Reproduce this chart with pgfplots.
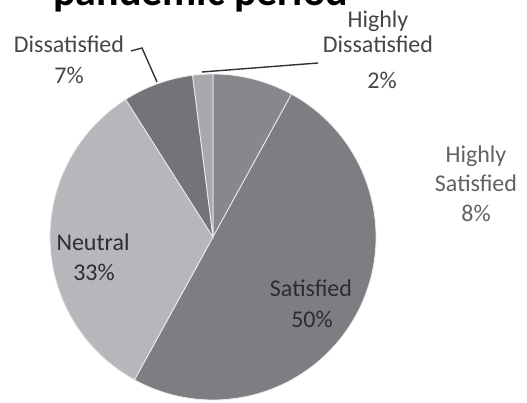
\documentclass[border=0pt]{standalone}
\usepackage{fontspec}
\setmainfont{Carlito}
\usepackage{pgfplots}
\usepackage{pgfplotstable}
\pgfplotsset{compat=1.18}

% slice shares, clockwise from 12 o'clock
\pgfplotstableread{
label value
HighlySatisfied 8
Satisfied 50
Neutral 33
Dissatisfied 7
HighlyDissatisfied 2
}\piedata

\definecolor{pc0}{HTML}{88888C}
\definecolor{pc1}{HTML}{7E7E82}
\definecolor{pc2}{HTML}{B7B7BB}
\definecolor{pc3}{HTML}{747478}
\definecolor{pc4}{HTML}{A9A9AD}
\definecolor{lbl}{HTML}{2C2C32}
\definecolor{outlbl}{HTML}{45454A}

\newcommand{\lab}{\fontsize{24}{29}\selectfont}

\begin{document}
\begin{tikzpicture}
\xdef\cum{90}
\foreach \i in {0,...,4}{
  \pgfplotstablegetelem{\i}{value}\of\piedata
  \pgfmathsetmacro{\e}{\cum-3.6*\pgfplotsretval}
  \expandafter\xdef\csname sa\i\endcsname{\cum}
  \expandafter\xdef\csname ea\i\endcsname{\e}
  \xdef\cum{\e}
}
\begin{axis}[name=ax, hide axis, disabledatascaling, scale only axis,
  x=1pt, y=1pt, xmin=0, xmax=527, ymin=0, ymax=403, clip=false]
\pgfplotsinvokeforeach{0,...,4}{
  \fill[fill=pc#1, draw=white!85!gray, line width=0.8pt]
    (axis cs:213,166) -- (axis cs:{213+163*cos(\csname sa#1\endcsname)},{166+163*sin(\csname sa#1\endcsname)})
    arc[start angle=\csname sa#1\endcsname, end angle=\csname ea#1\endcsname, radius=163pt] -- cycle;
}
% inside labels
\node[anchor=base, inner sep=0pt, font=\lab, text=lbl] at (axis cs:93,152) {Neutral};
\node[anchor=base, inner sep=0pt, font=\lab, text=lbl] at (axis cs:94,122) {33\%};
\node[anchor=base, inner sep=0pt, font=\lab, text=lbl] at (axis cs:311,106) {Satisfied};
\node[anchor=base, inner sep=0pt, font=\lab, text=lbl] at (axis cs:312,75) {50\%};
% outside labels
\node[anchor=base, inner sep=0pt, font=\lab, text=outlbl] at (axis cs:69,350) {Dissatisfied};
\node[anchor=base, inner sep=0pt, font=\lab, text=outlbl] at (axis cs:69,319) {7\%};
\node[anchor=base, inner sep=0pt, font=\lab, text=outlbl] at (axis cs:378,375) {Highly};
\node[anchor=base, inner sep=0pt, font=\lab, text=outlbl] at (axis cs:378,350) {Dissatisfied};
\node[anchor=base, inner sep=0pt, font=\lab, text=outlbl] at (axis cs:382,314) {2\%};
\node[anchor=base, inner sep=0pt, font=\lab, text=outlbl!85!white] at (axis cs:476,240) {Highly};
\node[anchor=base, inner sep=0pt, font=\lab, text=outlbl!85!white] at (axis cs:476,211) {Satisfied};
\node[anchor=base, inner sep=0pt, font=\lab, text=outlbl!85!white] at (axis cs:476,181) {8\%};
% leader lines
\draw[line width=1.4pt, color=black!80] (axis cs:131,352) -- (axis cs:142,355) -- (axis cs:157,321);
\draw[line width=1.4pt, color=black!80] (axis cs:202,331) -- (axis cs:318,340);
\end{axis}
% title, cut off by the top edge as in the source
\begin{scope}
\clip (ax.south west) rectangle (ax.north east);
\node[anchor=base west, inner sep=0pt, font=\fontsize{42}{50}\selectfont\bfseries]
  at ([xshift=53pt,yshift=-6pt]ax.north west) {pandemic period};
\end{scope}
\pgfresetboundingbox
\path (ax.south west) rectangle (ax.north east);
\end{tikzpicture}
\end{document}
